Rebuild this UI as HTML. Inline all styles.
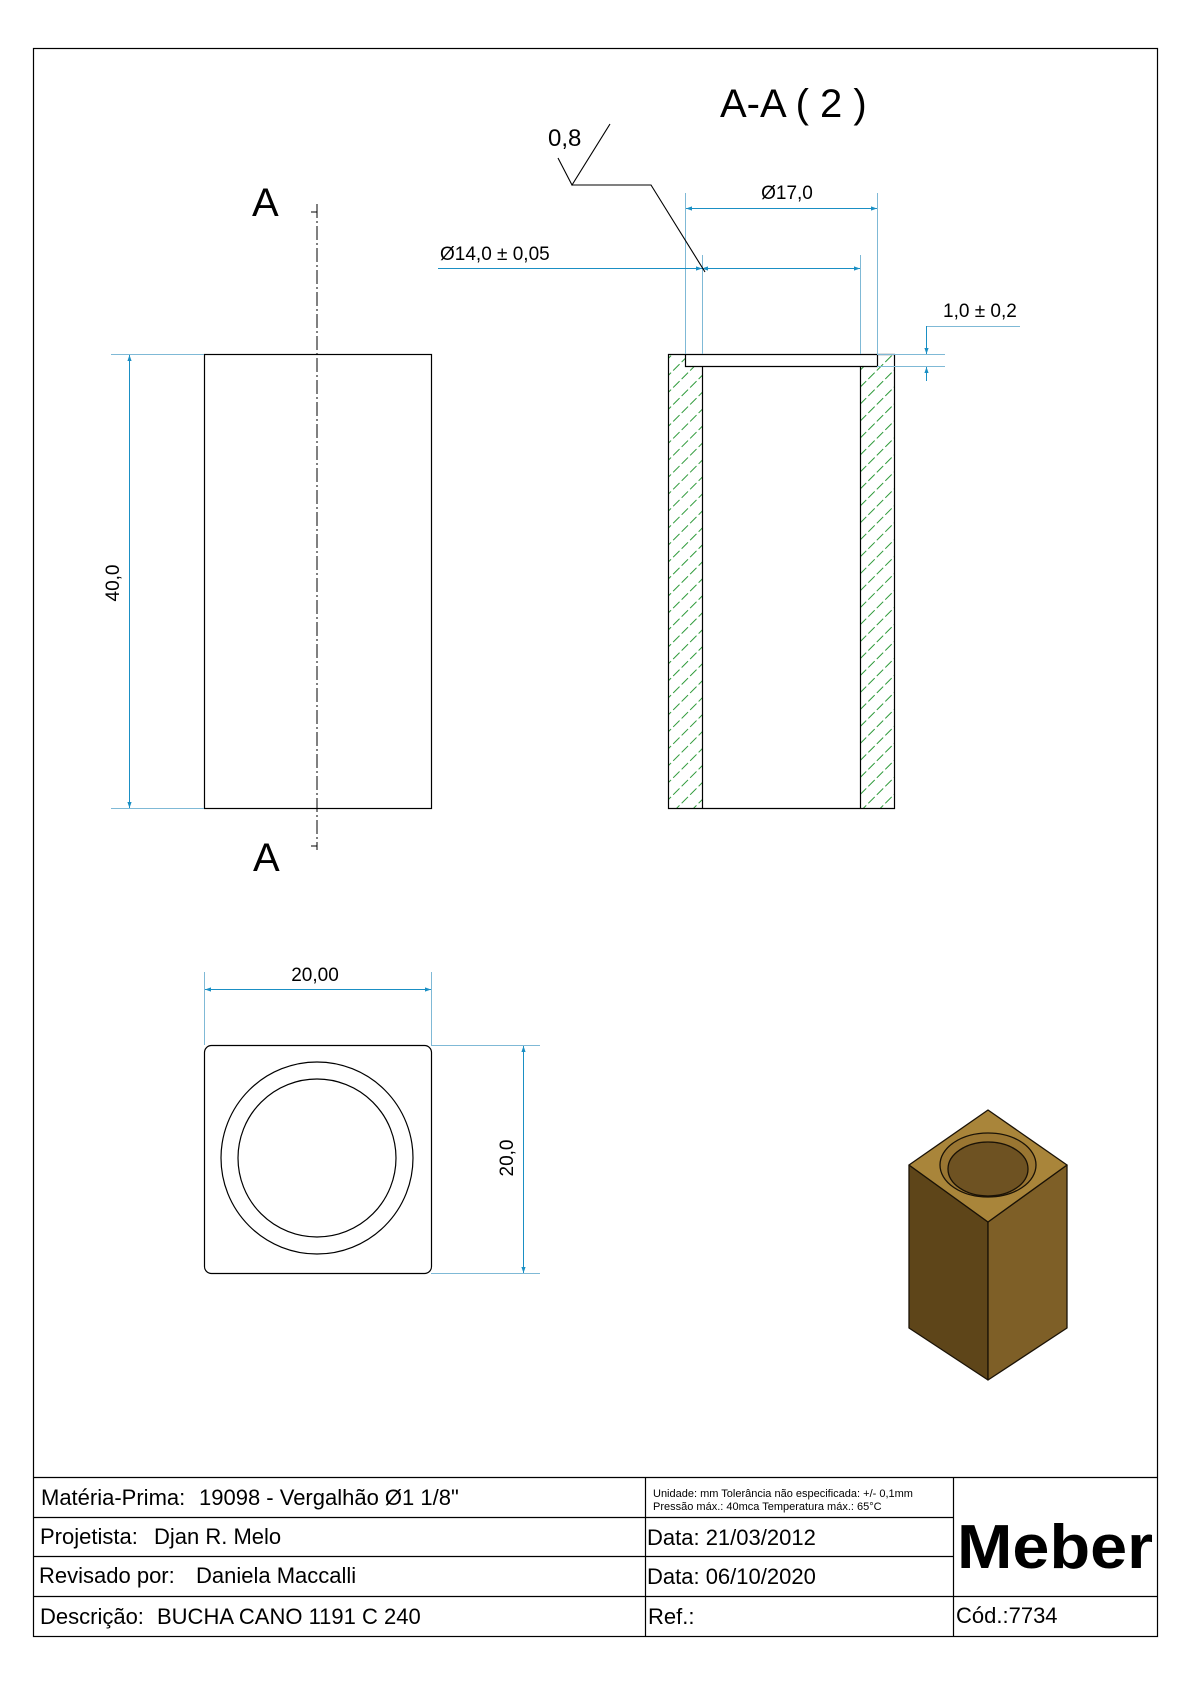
<!DOCTYPE html>
<html><head><meta charset="utf-8"><style>
html,body{margin:0;padding:0;background:#fff}
svg{display:block}
text{font-family:"Liberation Sans",sans-serif}
</style></head><body>
<svg width="1190" height="1684" viewBox="0 0 1190 1684" xmlns="http://www.w3.org/2000/svg">
<defs>
<pattern id="h" patternUnits="userSpaceOnUse" width="12" height="12" patternTransform="rotate(-45)">
<line x1="0" y1="6" x2="12" y2="6" stroke="#2e9a3a" stroke-width="1.1" stroke-dasharray="7 3"/>
</pattern>
<marker id="a" viewBox="0 0 10 10" refX="10" refY="5" markerWidth="8" markerHeight="6" orient="auto-start-reverse" markerUnits="userSpaceOnUse"><path d="M0,1.5 L10,5 L0,8.5z" fill="#1a8fc4"/></marker>
</defs>
<rect x="33.5" y="48.5" width="1124" height="1588" fill="none" stroke="#000" stroke-width="1.2"/>

<rect x="204.5" y="354.5" width="227" height="454" fill="none" stroke="#000" stroke-width="1.2"/>
<line x1="317" y1="204" x2="317" y2="850" stroke="#000" stroke-width="1" stroke-dasharray="14 3 2 3"/>
<line x1="311" y1="212" x2="317" y2="212" stroke="#000"/>
<line x1="311" y1="846" x2="317" y2="846" stroke="#000"/>
<text x="252" y="216" font-size="40">A</text>
<text x="253" y="871" font-size="40">A</text>
<g stroke="#7fb9d6" stroke-width="1">
<line x1="111" y1="354.5" x2="204" y2="354.5"/>
<line x1="111" y1="808.5" x2="204" y2="808.5"/>
</g>
<line x1="129.5" y1="355" x2="129.5" y2="808" stroke="#1a8fc4" marker-start="url(#a)" marker-end="url(#a)"/>
<text transform="translate(119,583) rotate(-90)" font-size="19" text-anchor="middle">40,0</text>

<rect x="668" y="354" width="34" height="454" fill="url(#h)"/>
<rect x="860" y="354" width="35" height="454" fill="url(#h)"/>
<rect x="685" y="354" width="192" height="12" fill="#fff"/>
<path d="M668.5,808.5 V354.5 H894.5 V808.5 Z M685.5,354.5 V366.5 H877.5 V354.5 M702.5,366.5 V808.5 M860.5,366.5 V808.5" fill="none" stroke="#000" stroke-width="1.2"/>
<g stroke="#7fb9d6" stroke-width="1">
<line x1="685.5" y1="193" x2="685.5" y2="354"/>
<line x1="877.5" y1="193" x2="877.5" y2="354"/>
<line x1="702.5" y1="255" x2="702.5" y2="354"/>
<line x1="860.5" y1="255" x2="860.5" y2="354"/>
<line x1="877" y1="354.5" x2="945" y2="354.5"/>
<line x1="877" y1="366.5" x2="945" y2="366.5"/>
<line x1="926" y1="326.5" x2="1020" y2="326.5"/>
</g>
<line x1="686" y1="208.5" x2="877" y2="208.5" stroke="#1a8fc4" marker-start="url(#a)" marker-end="url(#a)"/>
<text x="787" y="199" font-size="19" text-anchor="middle">Ø17,0</text>
<line x1="438" y1="268.5" x2="702" y2="268.5" stroke="#1a8fc4" marker-end="url(#a)"/>
<line x1="702" y1="268.5" x2="860" y2="268.5" stroke="#1a8fc4" marker-start="url(#a)" marker-end="url(#a)"/>
<text x="440" y="260" font-size="19">Ø14,0 ± 0,05</text>
<line x1="926.5" y1="326" x2="926.5" y2="354" stroke="#1a8fc4" marker-end="url(#a)"/>
<line x1="926.5" y1="381" x2="926.5" y2="367" stroke="#1a8fc4" marker-end="url(#a)"/>
<text x="943" y="317" font-size="19">1,0 ± 0,2</text>
<text x="720" y="117" font-size="40">A-A ( 2 )</text>
<text x="548" y="146" font-size="24">0,8</text>
<polyline points="558,158 572,185 610,124" fill="none" stroke="#000" stroke-width="1.1"/>
<polyline points="572,185 651,185 705,272" fill="none" stroke="#000" stroke-width="1.1"/>

<rect x="204.5" y="1045.5" width="227" height="228" rx="7" fill="none" stroke="#000" stroke-width="1.2"/>
<circle cx="317" cy="1158" r="96" fill="none" stroke="#000" stroke-width="1.2"/>
<circle cx="317" cy="1158" r="79" fill="none" stroke="#000" stroke-width="1.2"/>
<g stroke="#7fb9d6" stroke-width="1">
<line x1="204.5" y1="972" x2="204.5" y2="1045"/>
<line x1="431.5" y1="972" x2="431.5" y2="1045"/>
<line x1="431" y1="1045.5" x2="540" y2="1045.5"/>
<line x1="431" y1="1273.5" x2="540" y2="1273.5"/>
</g>
<line x1="205" y1="989.5" x2="431" y2="989.5" stroke="#1a8fc4" marker-start="url(#a)" marker-end="url(#a)"/>
<text x="315" y="981" font-size="19" text-anchor="middle">20,00</text>
<line x1="523.5" y1="1046" x2="523.5" y2="1273" stroke="#1a8fc4" marker-start="url(#a)" marker-end="url(#a)"/>
<text transform="translate(513,1158) rotate(-90)" font-size="19" text-anchor="middle">20,0</text>

<g stroke="#1a1206" stroke-width="1.3" stroke-linejoin="round">
<polygon points="909,1165 988,1222 988,1380 909,1328" fill="#5e4519"/>
<polygon points="988,1222 1067,1165 1067,1328 988,1380" fill="#7e5f27"/>
<polygon points="988,1110 1067,1165 988,1222 909,1165" fill="#a9853a"/>
<ellipse cx="988" cy="1165" rx="48" ry="32" fill="#9a7632"/>
<ellipse cx="988" cy="1169" rx="40" ry="27" fill="#6e5222"/>
</g>

<g stroke="#000" stroke-width="1.2">
<line x1="33" y1="1477.5" x2="1157" y2="1477.5"/>
<line x1="33" y1="1517.5" x2="953" y2="1517.5"/>
<line x1="33" y1="1556.5" x2="953" y2="1556.5"/>
<line x1="33" y1="1596.5" x2="1157" y2="1596.5"/>
<line x1="645.5" y1="1477" x2="645.5" y2="1636"/>
<line x1="953.5" y1="1477" x2="953.5" y2="1636"/>
</g>
<g font-size="22">
<text x="41" y="1505">Matéria-Prima:<tspan x="199">19098 - Vergalhão Ø1 1/8"</tspan></text>
<text x="40" y="1544">Projetista: <tspan x="154">Djan R. Melo</tspan></text>
<text x="39" y="1583">Revisado por: <tspan x="196">Daniela Maccalli</tspan></text>
<text x="40" y="1624">Descrição:<tspan x="157">BUCHA CANO 1191 C 240</tspan></text>
<text x="647" y="1545">Data: 21/03/2012</text>
<text x="647" y="1584">Data: 06/10/2020</text>
<text x="648" y="1624">Ref.:</text>
<text x="956" y="1623">Cód.:<tspan>7734</tspan></text>
</g>
<text x="653" y="1497" font-size="11">Unidade: mm Tolerância não especificada: +/- 0,1mm</text>
<text x="653" y="1510" font-size="11">Pressão máx.: 40mca         Temperatura máx.: 65°C</text>
<text x="957" y="1568" font-size="62" font-weight="bold" textLength="196" lengthAdjust="spacingAndGlyphs">Meber</text>
</svg>
</body></html>
